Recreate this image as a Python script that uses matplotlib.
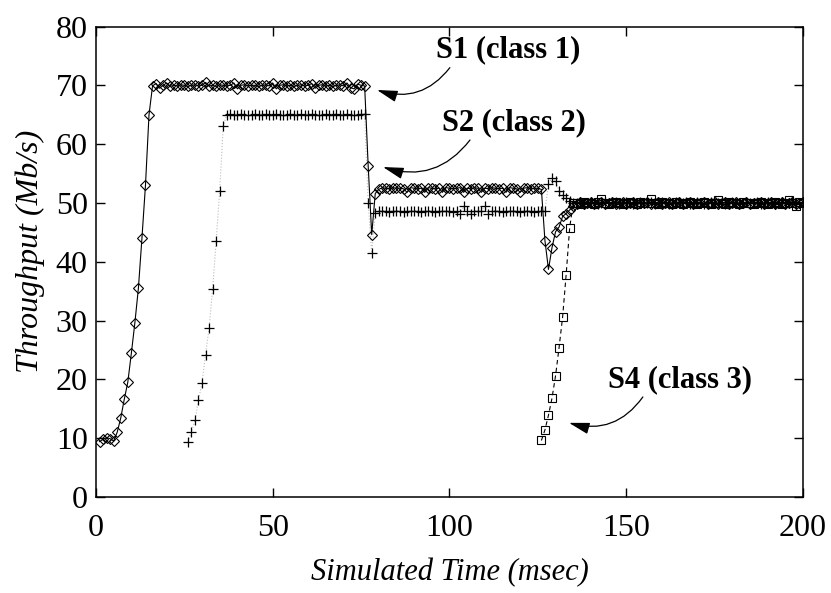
import numpy as np
import matplotlib
matplotlib.use("Agg")
import matplotlib.pyplot as plt

plt.rcParams['font.family'] = ['Liberation Serif', 'DejaVu Serif']

# tempos de amostragem (msec)
t_s1 = np.arange(1, 201)
t_s2 = np.arange(26, 201)
t_s4 = np.arange(126, 201)

# S1 (class 1) - losangos
s1 = [9.4, 9.8, 10.1, 9.9, 9.5, 11.0, 13.4, 16.6, 19.5, 24.4, 29.6, 35.5, 44.0, 53.0, 65.0, 69.9,
      70.3, 69.5, 70.0, 70.4, 69.8, 70.0, 69.9, 70.1, 70.0, 69.8,
      70.0, 70.1, 69.9, 70.0, 70.5, 69.9, 70.0, 69.8, 70.1, 70.0,
      69.9, 70.0, 70.4, 69.4, 70.0, 70.1, 69.9, 70.0, 70.0, 69.8,
      70.0, 70.1, 69.9, 70.4, 69.4, 70.0, 70.1, 69.9, 70.0, 69.8,
      70.0, 70.1, 69.9, 70.0, 70.3, 69.5, 70.0, 70.1, 69.9, 70.0,
      69.8, 70.0, 70.1, 69.9, 70.4, 69.6, 69.4, 70.2, 70.0, 69.9,
      56.3, 44.6, 51.6, 52.3,
      52.6, 52.5, 52.4, 52.6, 52.5, 52.5, 52.4, 51.8, 52.6, 52.5,
      52.4, 52.5, 51.8, 52.6, 52.5, 52.4, 52.5, 51.8, 52.6, 52.5,
      52.4, 52.5, 52.6, 51.8, 52.5, 52.4, 52.6, 52.5, 51.8, 52.5,
      52.4, 52.6, 52.5, 52.4, 52.5, 51.8, 52.6, 52.5, 52.4, 51.8,
      52.5, 52.6, 52.4, 52.5, 52.5,
      52.3, 43.6, 38.7, 42.4, 45.1, 45.9, 47.7, 48.2, 48.8, 49.4, 49.9,
      50.1, 49.9, 50.0, 50.2, 49.9, 50.0, 50.1, 49.8, 50.0, 50.1,
      49.9, 50.0, 50.2, 49.9, 50.0, 50.1, 49.9, 50.0, 50.0, 50.2,
      49.9, 50.0, 50.1, 49.8, 50.0, 50.1, 49.9, 50.0, 50.2, 49.9,
      50.0, 50.1, 49.9, 50.0, 50.0, 50.2, 49.9, 50.0, 50.1, 49.8,
      50.0, 50.1, 49.9, 50.0, 50.2, 49.9, 50.0, 50.1, 49.9, 50.0,
      50.0, 50.2, 49.9, 50.0, 50.1, 49.8, 50.0, 50.1, 49.9, 50.0,
      50.2, 49.9, 50.0, 50.1]

# S2 (class 2) - cruzes
s2 = [9.4, 11.0, 13.0, 16.5, 19.4, 24.2, 28.7, 35.4, 43.5, 52.1, 63.1,
      65.0, 65.1, 64.9, 65.0, 65.2, 65.0, 64.9, 65.0, 65.1, 65.0,
      65.0, 65.2, 64.9, 65.0, 65.1, 65.0, 64.9, 65.0, 65.2, 65.0,
      65.0, 65.1, 64.9, 65.0, 65.2, 65.0, 64.9, 65.0, 65.1, 65.0,
      65.0, 65.2, 64.9, 65.0, 65.1, 65.0, 64.9, 65.0, 65.1, 65.2,
      50.0, 41.5, 48.3,
      48.6, 48.7, 48.6, 48.5, 48.6, 48.7, 48.6, 48.5, 48.6, 48.6,
      48.7, 48.6, 48.5, 48.6, 48.7, 48.6, 48.5, 48.6, 48.6, 48.7,
      48.6, 48.5, 48.6, 48.1, 49.4, 48.6, 48.2, 48.6, 48.7, 48.6,
      49.4, 48.2, 48.6, 48.7, 48.6, 48.5, 48.6, 48.6, 48.7, 48.6,
      48.5, 48.6, 48.7, 48.6, 48.5, 48.6, 48.6, 48.6,
      53.3, 54.2, 53.8, 52.0, 51.4, 50.8, 50.3, 50.0,
      50.0, 50.1, 49.9, 50.0, 50.1, 50.0, 49.9, 50.0, 50.1, 50.0,
      50.0, 50.1, 49.9, 50.0, 50.1, 50.0, 49.9, 50.0, 50.1, 50.0,
      50.0, 50.1, 49.9, 50.0, 50.1, 50.0, 49.9, 50.0, 50.1, 50.0,
      50.0, 50.1, 49.9, 50.0, 50.1, 50.0, 49.9, 50.0, 50.1, 50.0,
      50.0, 50.1, 49.9, 50.0, 50.1, 50.0, 49.9, 50.0, 50.1, 50.0,
      50.0, 50.1, 49.9, 50.0, 50.1, 50.0, 49.9, 50.0, 50.1, 50.0,
      50.0, 50.1, 49.9, 50.0, 50.1]

# S4 (class 3) - quadrados
s4 = [9.6, 11.4, 13.9, 16.8, 20.6, 25.4, 30.6, 37.8, 45.8, 50.0,
      50.0, 49.9, 50.1, 50.0, 50.0, 49.8, 50.1, 50.6, 50.0, 49.9,
      50.0, 50.1, 50.0, 49.9, 50.0, 50.1, 50.0, 49.9, 50.1, 50.0,
      50.0, 50.6, 50.0, 49.9, 50.1, 50.0, 50.0, 49.9, 50.1, 50.0,
      49.9, 50.0, 50.1, 50.0, 49.8, 50.0, 50.1, 50.0, 49.9, 50.0,
      50.5, 50.0, 49.9, 50.1, 50.0, 50.0, 49.9, 50.1, 50.0, 50.0,
      49.9, 50.0, 50.1, 50.0, 49.9, 50.0, 50.1, 50.0, 49.9, 50.0,
      50.5, 50.0, 49.5, 50.1, 50.0]

x_ticks = [0, 50, 100, 150, 200]
y_ticks = [0, 10, 20, 30, 40, 50, 60, 70, 80]

# rótulos: (texto, posição do texto, início da seta, ponta da seta)
rotulos = [
    ("S1 (class 1)", (116.5, 76.0), (100.1, 73.0), (79.5, 69.2)),
    ("S2 (class 2)", (118.2, 63.6), (105.8, 60.7), (81.2, 56.1)),
    ("S4 (class 3)", (165.2, 19.9), (154.7, 17.0), (133.8, 12.6)),
]


def gerar_grafico():
    fig = plt.figure(figsize=(8.31, 5.93), dpi=100)
    ax = fig.add_axes([0.1155, 0.162, 0.8508, 0.7933])

    ax.plot(t_s2, s2, linestyle=':', color='#bbbbbb', linewidth=0.8,
            marker='+', markersize=7, markeredgecolor='black', markeredgewidth=0.9)
    ax.plot(t_s4, s4, linestyle=(0, (4, 3)), color='black', linewidth=0.8,
            marker='s', markersize=6, markerfacecolor='none',
            markeredgecolor='black', markeredgewidth=0.8)
    ax.plot(t_s1, s1, linestyle='-', color='black', linewidth=0.8,
            marker='D', markersize=5.5, markerfacecolor='none',
            markeredgecolor='black', markeredgewidth=0.8)

    ax.set_xlim(0, 200)
    ax.set_ylim(0, 80)
    ax.set_xticks(x_ticks)
    ax.set_yticks(y_ticks)
    ax.tick_params(direction='in', length=6.5, width=1.0, top=True, right=True,
                   labelsize=23)
    ax.tick_params(axis='x', pad=12)
    ax.tick_params(axis='y', pad=6)
    for sp in ax.spines.values():
        sp.set_linewidth(1.1)

    ax.set_xlabel('Simulated Time (msec)', fontsize=22, style='italic')
    ax.xaxis.set_label_coords(0.5, -0.16)
    ax.xaxis.label.set_va('center')
    ax.set_ylabel('Throughput (Mb/s)', fontsize=23, style='italic')
    ax.yaxis.set_label_coords(-0.093, 0.523)
    ax.yaxis.label.set_va('center')

    for texto, pos, ini, ponta in rotulos:
        ax.text(pos[0], pos[1], texto, fontsize=22, fontweight='bold',
                ha='center', va='center')
        ax.annotate('', xy=ponta, xytext=ini,
                    arrowprops=dict(arrowstyle='-|>,head_length=0.9,head_width=0.25',
                                    connectionstyle='arc3,rad=-0.35',
                                    color='black', lw=0.9,
                                    shrinkA=0, shrinkB=0, mutation_scale=14))

    fig.savefig('out.png', dpi=100)


if __name__ == "__main__":
    gerar_grafico()
